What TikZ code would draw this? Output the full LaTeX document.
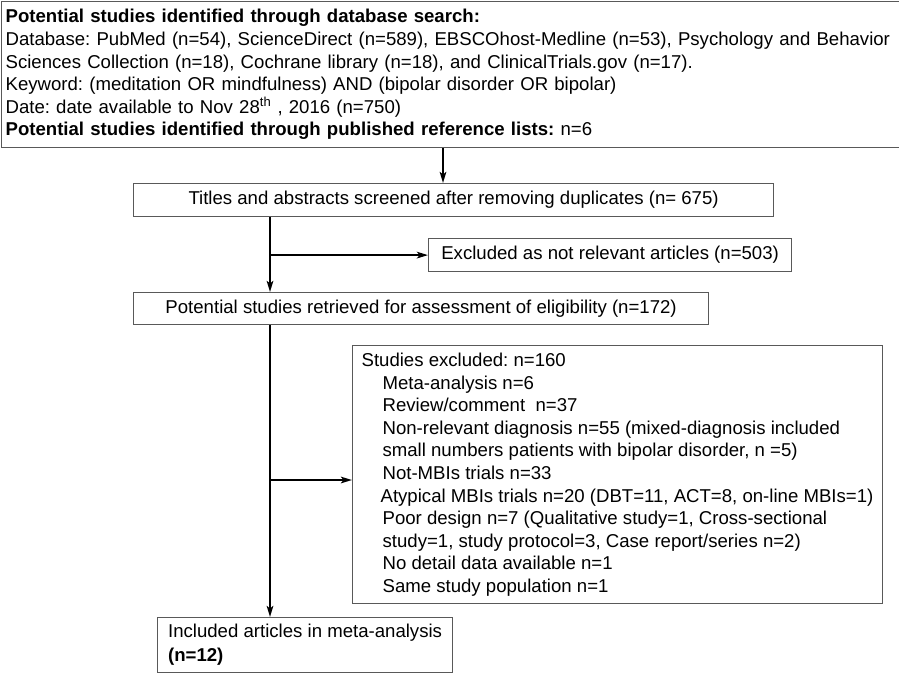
\documentclass[tikz,border=0pt]{standalone}
\usepackage{fontspec}
\setmainfont{Liberation Sans}
\usetikzlibrary{arrows.meta}
\frenchspacing

\begin{document}
\begin{tikzpicture}[x=1pt,y=-1pt,
    box/.style={draw=black!65,line width=1.2pt,anchor=north west,inner sep=0pt,
      font=\fontsize{18.6}{22.6}\selectfont},
    arr/.style={draw,line width=2.2pt,-{Stealth[length=11pt,width=6.5pt,inset=2.5pt]}}]
  \useasboundingbox (0,0) rectangle (899,675);
%  search box runs off the right edge of the page
  \node[box,align=left,text width=925pt,inner xsep=4pt,minimum height=146pt] (search) at (1,1)
    {\textbf{Potential studies identified through database search:}\\
     Database: PubMed (n=54), ScienceDirect (n=589), EBSCOhost-Medline (n=53), Psychology and Behavior\\
     Sciences Collection (n=18), Cochrane library (n=18), and ClinicalTrials.gov (n=17).\\
     Keyword: (meditation OR mindfulness) AND (bipolar disorder OR bipolar)\\
     Date: date available to Nov 28\textsuperscript{th} , 2016 (n=750)\\
     \textbf{Potential studies identified through published reference lists:} n=6};
  \node[box,minimum width=640pt,minimum height=33pt] (titles) at (133,183)
    {Titles and abstracts screened after removing duplicates (n= 675)};
  \node[box,minimum width=363pt,minimum height=33pt] (excluded) at (428,238)
    {Excluded as not relevant articles (n=503)};
  \node[box,minimum width=575pt,minimum height=32pt] (retrieved) at (133,292)
    {Potential studies retrieved for assessment of eligibility (n=172)};
  \node[box,align=left,inner xsep=9pt,minimum height=258pt] (studiesex) at (352,345)
    {Studies excluded: n=160\\
     \hspace*{21pt}Meta-analysis n=6\\
     \hspace*{21pt}Review/comment\ \ n=37\\
     \hspace*{21pt}Non-relevant diagnosis n=55 (mixed-diagnosis included\\
     \hspace*{21pt}small numbers patients with bipolar disorder, n =5)\\
     \hspace*{21pt}Not-MBIs trials n=33\\
     \hspace*{19pt}Atypical MBIs trials n=20 (DBT=11, ACT=8, on-line MBIs=1)\\
     \hspace*{21pt}Poor design n=7 (Qualitative study=1, Cross-sectional\\
     \hspace*{21pt}study=1, study protocol=3, Case report/series n=2)\\
     \hspace*{21pt}No detail data available n=1\\
     \hspace*{21pt}Same study population n=1};
  \node[box,align=left,inner xsep=10.5pt,minimum height=55pt,
    font=\fontsize{18.6}{24}\selectfont] (included) at (157,617)
    {Included articles in meta-analysis\\
     \textbf{(n=12)}};

  \coordinate (down) at (443,0);
  \coordinate (trunk) at (270,0);
  \coordinate (branch) at (270,480);
  \draw[arr] (search.south -| down) -- (titles.north -| down);
  \draw[arr] (titles.south -| trunk) -- (retrieved.north -| trunk);
  \draw[arr] (excluded.west -| trunk) -- (excluded.west);
  \draw[arr] (retrieved.south -| trunk) -- (included.north -| trunk);
  \draw[arr] (branch) -- (branch -| studiesex.west);
\end{tikzpicture}
\end{document}
